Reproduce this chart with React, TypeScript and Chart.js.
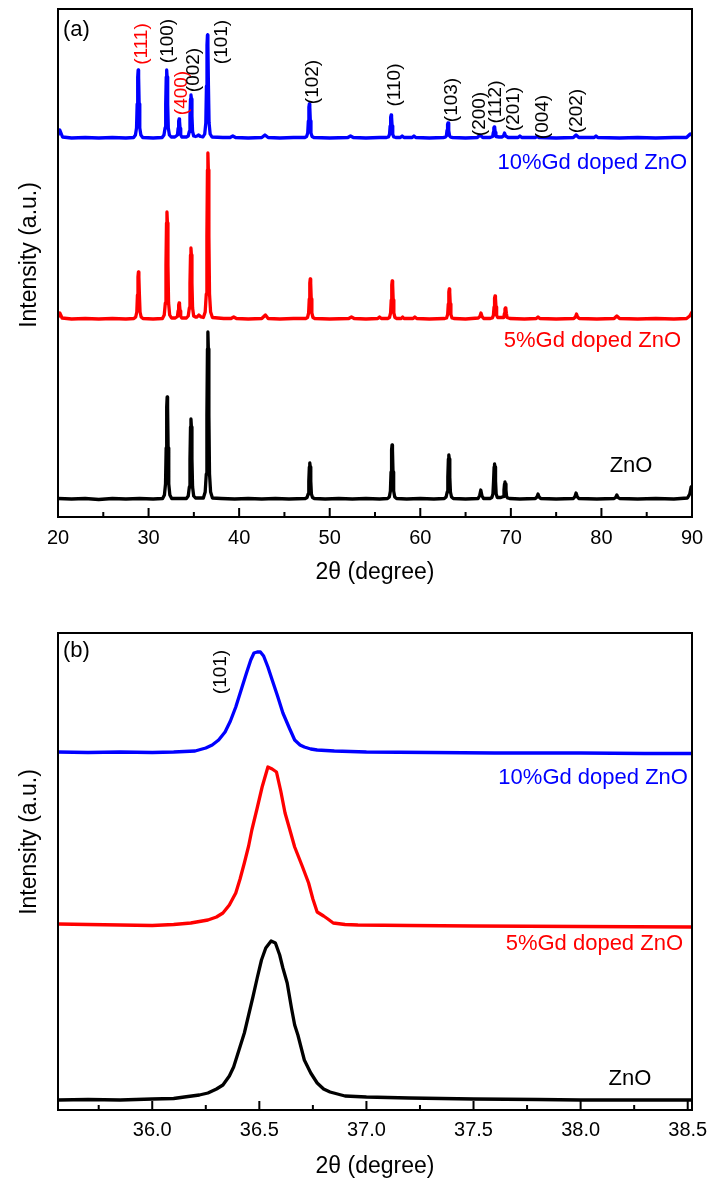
import { useEffect, useRef } from "react";
import { Chart, registerables } from "chart.js";

Chart.register(...registerables);

const FONT = "'Liberation Sans', Arial, Helvetica, sans-serif";

type Pt = [number, number];

const seriesNames = ["ZnO", "5%Gd doped ZnO", "10%Gd doped ZnO"];
const seriesColors = ["#000000", "#ff0000", "#0000ff"];

// ---------- Panel (a): 2θ = 20–90° ----------
const xTicksA = [20, 30, 40, 50, 60, 70, 80, 90];
const xTickLabelsA = ["20", "30", "40", "50", "60", "70", "80", "90"];
const xMinorA = [25, 35, 45, 55, 65, 75, 85];
const stackA = [18, 198, 379];

const znoA: Pt[] = [
  [20, 0.5], [21.5, 0], [23, 0.5], [24.5, -0.5], [26, 0.5], [27.5, 0], [29, 0.5], [30.5, 0],
  [31.55, 0.5], [31.75, 4], [31.87, 15], [31.94, 51], [32.0, 92], [32.05, 102], [32.1, 92], [32.16, 51], [32.23, 15], [32.35, 4], [32.55, 0.5],
  [33.3, 0.5],
  [34.18, 0.5], [34.38, 3], [34.5, 12], [34.57, 40], [34.63, 72], [34.68, 80], [34.73, 72], [34.79, 40], [34.86, 12], [34.98, 3], [35.18, 1],
  [35.6, 1],
  [36.05, 1], [36.25, 7], [36.37, 25], [36.44, 84], [36.5, 150], [36.55, 167], [36.6, 150], [36.66, 84], [36.73, 25], [36.85, 7], [37.05, 1],
  [38, 0.5], [39.5, 0], [41, 0.5], [42.5, 0], [44, 0.5], [45.5, 0],
  [47.3, 0.5], [47.5, 1.5], [47.62, 5], [47.69, 18], [47.75, 32], [47.8, 36], [47.85, 32], [47.91, 18], [47.98, 5], [48.1, 1.5], [48.3, 0.5],
  [49.5, 0], [51, 0.5], [52.5, 0], [54, 0.5], [55.5, 0],
  [56.38, 0.5], [56.58, 2], [56.7, 8], [56.77, 27], [56.83, 49], [56.88, 54], [56.93, 49], [56.99, 27], [57.06, 8], [57.18, 2], [57.38, 0.5],
  [58.5, 0], [60, 0.5], [61.5, 0],
  [62.65, 0.5], [62.85, 2], [62.97, 7], [63.04, 22], [63.1, 40], [63.15, 44], [63.2, 40], [63.26, 22], [63.33, 7], [63.45, 2], [63.65, 0.5],
  [65, 0],
  [66.38, 0.5], [66.56, 3.6], [66.68, 9], [66.8, 3.6], [66.98, 0.5],
  [67.7, 0.5], [67.9, 1.5], [68.02, 5], [68.09, 18], [68.15, 32], [68.2, 35], [68.25, 32], [68.31, 18], [68.38, 5], [68.5, 1.5], [68.75, 1.5],
  [68.9, 1.5], [69.17, 2.5], [69.24, 9], [69.3, 15], [69.35, 17], [69.4, 15], [69.46, 9], [69.53, 2.5], [69.65, 1], [69.85, 0.5],
  [71, 0],
  [72.7, 0.5], [72.88, 2], [73.0, 5], [73.12, 2], [73.3, 0.5],
  [75, 0],
  [76.9, 0.5], [77.08, 2.4], [77.2, 6], [77.32, 2.4], [77.5, 0.5],
  [79.5, 0],
  [81.4, 0.5], [81.58, 1.6], [81.7, 4], [81.82, 1.6], [82.0, 0.5],
  [84, 0], [86, 0.5], [88, 0], [89.5, 1], [89.75, 5], [89.9, 12], [90, 13],
];

const gd5A: Pt[] = [
  [20, 2], [20.2, 6], [20.45, 1], [21.5, 0], [23, 0.5], [24.5, 0], [26, 0.5], [27.5, 0],
  [28.38, 0.5], [28.58, 2], [28.7, 7], [28.77, 24], [28.83, 42], [28.88, 47], [28.93, 42], [28.99, 24], [29.06, 7], [29.18, 2], [29.38, 0.5],
  [30.5, 0],
  [31.53, 0.5], [31.73, 4], [31.85, 16], [31.92, 54], [31.98, 96], [32.03, 107], [32.08, 96], [32.14, 54], [32.21, 16], [32.33, 4], [32.53, 1],
  [32.95, 1], [33.19, 2.5], [33.26, 8], [33.32, 14], [33.37, 16], [33.42, 14], [33.48, 8], [33.55, 2.5], [33.67, 1], [33.87, 1],
  [34.18, 1], [34.38, 3], [34.5, 11], [34.57, 36], [34.63, 64], [34.68, 71], [34.73, 64], [34.79, 36], [34.86, 11], [34.98, 3], [35.18, 2],
  [35.35, 2], [35.55, 4], [35.8, 2],
  [36.05, 1.5], [36.25, 7], [36.37, 25], [36.44, 83], [36.5, 149], [36.55, 166], [36.6, 149], [36.66, 83], [36.73, 25], [36.85, 7], [37.05, 1.5],
  [38.3, 0.5], [39.1, 0.5], [39.4, 2], [39.7, 0.5], [41, 0], [42.5, 0.5], [42.9, 4], [43.2, 0.5], [44.5, 0], [46, 0.5],
  [47.35, 0.5], [47.55, 1.5], [47.67, 6], [47.74, 20], [47.8, 36], [47.85, 40], [47.9, 36], [47.96, 20], [48.03, 6], [48.15, 1.5], [48.35, 0.5],
  [50, 0], [52.1, 0.5], [52.4, 2], [52.7, 0.5], [54, 0], [55.3, 0.5], [55.5, 2], [55.7, 0.5],
  [56.4, 0.5], [56.6, 1.5], [56.72, 6], [56.79, 19], [56.85, 34], [56.9, 38], [56.95, 34], [57.01, 19], [57.08, 6], [57.2, 1.5], [57.4, 0.5],
  [57.9, 0.5], [58.05, 2], [58.2, 0.5], [59.2, 0.5], [59.4, 2], [59.6, 0.5], [61, 0],
  [62.7, 0.5], [62.9, 1], [63.02, 4.5], [63.09, 15], [63.15, 27], [63.2, 30], [63.25, 27], [63.31, 15], [63.38, 4.5], [63.5, 1], [63.7, 0.5],
  [65, 0],
  [66.4, 1], [66.58, 2.4], [66.7, 6], [66.82, 2.4], [67.0, 0.5],
  [67.75, 0.5], [67.95, 1], [68.07, 3.5], [68.14, 12], [68.2, 21], [68.25, 23], [68.3, 21], [68.36, 12], [68.43, 3.5], [68.55, 1.5], [68.75, 1.5],
  [68.95, 1.5], [69.22, 1.5], [69.29, 5.5], [69.35, 10], [69.4, 11], [69.45, 10], [69.51, 5.5], [69.58, 1.5], [69.9, 0.5],
  [71.5, 0], [72.8, 0.5], [73.0, 2], [73.2, 0.5], [75, 0],
  [76.95, 0.5], [77.13, 2], [77.25, 5], [77.37, 2], [77.55, 0.5],
  [79.5, 0], [81.4, 0.5], [81.7, 3], [82.0, 0.5], [84, 0], [86, 0.5], [88, 0], [89.4, 0.5], [89.75, 3], [90, 7],
];

const gd10A: Pt[] = [
  [20, 3], [20.2, 8], [20.5, 1], [21.5, 0], [23, 0.5], [24.5, 0], [26, 0.5], [27.5, 0],
  [28.35, 0.5], [28.55, 3], [28.67, 10], [28.74, 34], [28.8, 61], [28.85, 68], [28.9, 61], [28.96, 34], [29.03, 10], [29.15, 3], [29.35, 0.5],
  [30.5, 0],
  [31.5, 0.5], [31.7, 3], [31.82, 10], [31.89, 34], [31.95, 61], [32.0, 68], [32.05, 61], [32.11, 34], [32.18, 10], [32.3, 3], [32.5, 1],
  [32.9, 1], [33.19, 3], [33.26, 9.5], [33.32, 17], [33.37, 19], [33.42, 17], [33.48, 9.5], [33.55, 3], [33.67, 1], [33.87, 1],
  [34.18, 1], [34.38, 2], [34.5, 6.5], [34.57, 22], [34.63, 39], [34.68, 43], [34.73, 39], [34.79, 22], [34.86, 6.5], [34.98, 2], [35.18, 1.5],
  [35.35, 2], [35.5, 3], [35.75, 1.5],
  [36.0, 1], [36.2, 4], [36.32, 15], [36.39, 52], [36.45, 93], [36.5, 103], [36.55, 93], [36.61, 52], [36.68, 15], [36.8, 4], [37.0, 1],
  [38.2, 0.5], [39.0, 0.5], [39.3, 2], [39.6, 0.5], [41, 0], [42.5, 0.5], [42.85, 3], [43.2, 0.5], [44.5, 0], [46, 0.5],
  [47.25, 0.5], [47.45, 1.5], [47.57, 5], [47.64, 17], [47.7, 31], [47.75, 34], [47.8, 31], [47.86, 17], [47.93, 5], [48.05, 1.5], [48.25, 0.5],
  [50, 0], [52.0, 0.5], [52.3, 2], [52.6, 0.5], [54, 0], [55.5, 0.5],
  [56.28, 0.5], [56.48, 1], [56.6, 3.5], [56.67, 12], [56.73, 21], [56.78, 23], [56.83, 21], [56.89, 12], [56.96, 3.5], [57.08, 1], [57.28, 0.5],
  [57.8, 0.5], [58.0, 2], [58.2, 0.5], [59.1, 0.5], [59.3, 2], [59.5, 0.5], [61, 0],
  [62.56, 0.5], [62.76, 0.8], [62.88, 2], [62.95, 7.5], [63.01, 13.5], [63.06, 15], [63.11, 13.5], [63.17, 7.5], [63.24, 2], [63.36, 0.8], [63.56, 0.5],
  [65, 0], [66.3, 0.5], [66.6, 3], [66.9, 0.5],
  [67.7, 0.5], [67.99, 1.5], [68.06, 5.5], [68.12, 10], [68.17, 11], [68.22, 10], [68.28, 5.5], [68.35, 1.5], [68.7, 1],
  [69.0, 1], [69.18, 2], [69.3, 5], [69.42, 2], [69.7, 0.5],
  [70.8, 0.5], [71.0, 2], [71.2, 0.5], [72.7, 0.5], [72.9, 1.5], [73.1, 0.5], [75, 0],
  [76.9, 0.5], [77.2, 3], [77.5, 0.5], [79.2, 0.5], [79.4, 2], [79.6, 0.5],
  [82, 0], [84, 0.5], [86, 0], [88, 0.5], [89.4, 0.5], [89.8, 4], [90, 3],
];

// ---------- Panel (b): the (101) reflection ----------
const xTicksB = [36.0, 36.5, 37.0, 37.5, 38.0, 38.5];
const xTickLabelsB = ["36.0", "36.5", "37.0", "37.5", "38.0", "38.5"];
const xMinorB = [35.75, 36.25, 36.75, 37.25, 37.75, 38.25];
const stackB = [10, 184, 357];

const znoB: Pt[] = [
  [35.56, 0], [35.7, 0.5], [35.85, 0], [36.0, 1], [36.1, 1.5], [36.15, 3], [36.22, 5], [36.26, 7],
  [36.3, 11], [36.33, 15], [36.36, 24], [36.38, 33], [36.405, 50], [36.43, 67], [36.45, 85],
  [36.47, 103], [36.49, 122], [36.51, 140], [36.53, 152], [36.555, 159], [36.575, 157],
  [36.595, 145], [36.61, 132], [36.63, 117], [36.65, 92], [36.665, 75], [36.68, 65], [36.71, 40],
  [36.74, 27], [36.77, 17], [36.8, 11], [36.83, 8], [36.9, 4], [37.0, 3], [37.2, 2], [37.5, 1],
  [37.8, 0.5], [38.0, 0], [38.3, 0], [38.52, 0],
];

const gd5B: Pt[] = [
  [35.56, 2], [35.7, 1.5], [35.85, 1], [36.0, 0.5], [36.1, 1.5], [36.18, 3], [36.26, 6], [36.3, 9],
  [36.33, 13], [36.36, 21], [36.39, 33], [36.41, 47], [36.43, 63], [36.45, 80], [36.465, 96],
  [36.49, 118], [36.513, 139], [36.54, 159], [36.56, 157], [36.58, 154], [36.6, 135], [36.62, 113],
  [36.64, 98], [36.665, 79], [36.7, 60], [36.73, 43], [36.75, 27], [36.77, 14], [36.8, 10],
  [36.82, 7], [36.845, 3], [36.9, 1.5], [36.96, 1], [37.2, 0.5], [37.5, 0], [38.0, -0.5], [38.52, -1],
];

const gd10B: Pt[] = [
  [35.56, 1], [35.7, 0.5], [35.85, 1], [36.0, 0.5], [36.1, 1], [36.2, 2], [36.25, 5], [36.28, 8],
  [36.31, 13], [36.34, 21], [36.365, 32], [36.39, 46], [36.415, 63], [36.44, 80], [36.46, 93],
  [36.475, 100], [36.49, 101], [36.505, 101], [36.52, 97], [36.54, 86], [36.56, 73], [36.585, 57],
  [36.61, 40], [36.64, 25], [36.665, 13], [36.69, 8], [36.71, 6], [36.74, 4], [36.77, 3],
  [36.85, 2], [37.0, 1], [37.3, 0.5], [37.6, 0], [38.0, 0], [38.3, -0.5], [38.52, -0.5],
];

type Note = {
  text: string;
  x: number;
  y: number;
  color?: string;
  size?: number;
  align?: CanvasTextAlign;
  rotate?: boolean;
};

const notesA: Note[] = [
  { text: "(a)", x: 20.55, y: 487, align: "left", size: 22 },
  { text: "(111)", x: 29.27, y: 473, rotate: true, color: "#ff0000" },
  { text: "(100)", x: 32.15, y: 476, rotate: true },
  { text: "(400)", x: 33.69, y: 424, rotate: true, color: "#ff0000" },
  { text: "(002)", x: 35.02, y: 447, rotate: true },
  { text: "(101)", x: 38.11, y: 475, rotate: true },
  { text: "(102)", x: 48.15, y: 435, rotate: true },
  { text: "(110)", x: 57.21, y: 432, rotate: true },
  { text: "(103)", x: 63.5, y: 417, rotate: true },
  { text: "(200)", x: 66.59, y: 403, rotate: true },
  { text: "(112)", x: 68.36, y: 415, rotate: true },
  { text: "(201)", x: 70.35, y: 408, rotate: true },
  { text: "(004)", x: 73.55, y: 400, rotate: true },
  { text: "(202)", x: 77.3, y: 406, rotate: true },
  { text: seriesNames[2], x: 89.45, y: 354, align: "right", color: seriesColors[2], size: 22 },
  { text: seriesNames[1], x: 88.8, y: 176, align: "right", color: seriesColors[1], size: 22 },
  { text: seriesNames[0], x: 83.27, y: 51, align: "center", size: 22 },
];

const notesB: Note[] = [
  { text: "(b)", x: 35.583, y: 459, align: "left", size: 22 },
  { text: "(101)", x: 36.32, y: 438, rotate: true },
  { text: seriesNames[2], x: 38.501, y: 332, align: "right", color: seriesColors[2], size: 22 },
  { text: seriesNames[1], x: 38.478, y: 166, align: "right", color: seriesColors[1], size: 22 },
  { text: seriesNames[0], x: 38.23, y: 31, align: "center", size: 22 },
];

type PanelProps = {
  top: number;
  height: number;
  xMin: number;
  xMax: number;
  yMax: number;
  majors: number[];
  majorLabels: string[];
  minors: number[];
  series: Pt[][];
  stack: number[];
  notes: Note[];
  yTitleAt: number;
  padTop: number;
  axisHeight: number;
  tickPad: number;
  titlePad: number;
  lineWidth: number;
};

function Panel(p: PanelProps) {
  const ref = useRef<HTMLCanvasElement | null>(null);

  useEffect(() => {
    if (!ref.current) return;

    // frame, inward tick marks, axis title and peak/series annotations
    const decor = {
      id: "panelDecor",
      afterDatasetsDraw(chart: any) {
        const { ctx, chartArea: a, scales } = chart;
        const xs = scales.x;
        const ys = scales.y;
        ctx.save();
        ctx.strokeStyle = "#000";
        ctx.lineWidth = 2;
        ctx.strokeRect(a.left, a.top, a.right - a.left, a.bottom - a.top);
        ctx.beginPath();
        for (const v of p.majors) {
          const px = xs.getPixelForValue(v);
          ctx.moveTo(px, a.bottom);
          ctx.lineTo(px, a.bottom - 9);
        }
        for (const v of p.minors) {
          const px = xs.getPixelForValue(v);
          ctx.moveTo(px, a.bottom);
          ctx.lineTo(px, a.bottom - 5);
        }
        ctx.stroke();

        ctx.save();
        ctx.translate(a.left - 28, ys.getPixelForValue(p.yTitleAt));
        ctx.rotate(-Math.PI / 2);
        ctx.fillStyle = "#000";
        ctx.font = `23px ${FONT}`;
        ctx.textAlign = "center";
        ctx.textBaseline = "middle";
        ctx.fillText("Intensity (a.u.)", 0, 0);
        ctx.restore();

        for (const n of p.notes) {
          const px = xs.getPixelForValue(n.x);
          const py = ys.getPixelForValue(n.y);
          ctx.save();
          ctx.fillStyle = n.color ?? "#000";
          ctx.font = `${n.size ?? 19}px ${FONT}`;
          ctx.textBaseline = "middle";
          ctx.translate(px, py);
          if (n.rotate) {
            ctx.rotate(-Math.PI / 2);
            ctx.textAlign = "center";
          } else {
            ctx.textAlign = n.align ?? "left";
          }
          ctx.fillText(n.text, 0, 0);
          ctx.restore();
        }
        ctx.restore();
      },
    };

    const chart = new Chart(ref.current, {
      type: "line",
      data: {
        datasets: p.series.map((pts, i) => ({
          label: seriesNames[i],
          data: pts.map(([x, y]) => ({ x, y: y + p.stack[i] })),
          borderColor: seriesColors[i],
          borderWidth: p.lineWidth,
          pointRadius: 0,
          tension: 0,
          borderJoinStyle: "round" as const,
          borderCapStyle: "round" as const,
          fill: false,
        })),
      },
      options: {
        animation: false,
        responsive: false,
        devicePixelRatio: 1,
        events: [],
        layout: { padding: { left: 58, right: 17, top: p.padTop, bottom: 0 } },
        plugins: { legend: { display: false }, tooltip: { enabled: false } },
        scales: {
          x: {
            type: "linear",
            min: p.xMin,
            max: p.xMax,
            grid: { display: false, drawTicks: false },
            border: { display: false },
            afterBuildTicks: (s: any) => {
              s.ticks = p.majors.map((v) => ({ value: v }));
            },
            afterFit: (s: any) => {
              s.height = p.axisHeight;
              s.paddingLeft = 0;
              s.paddingRight = 0;
            },
            ticks: {
              autoSkip: false,
              maxRotation: 0,
              padding: p.tickPad,
              color: "#000",
              font: { family: FONT, size: 20 },
              callback: (_v: any, i: number) => p.majorLabels[i],
            },
            title: {
              display: true,
              text: "2θ (degree)",
              color: "#000",
              font: { family: FONT, size: 23, lineHeight: 1 },
              padding: { top: 0, bottom: p.titlePad },
            },
          },
          y: { display: false, min: 0, max: p.yMax },
        },
      },
      plugins: [decor],
    } as any);

    return () => chart.destroy();
  }, []);

  return (
    <canvas
      ref={ref}
      width={709}
      height={p.height}
      style={{ position: "absolute", left: 0, top: p.top, width: 709, height: p.height }}
    />
  );
}

export default function App() {
  return (
    <div
      style={{
        position: "absolute",
        left: 0,
        top: 0,
        width: 709,
        height: 1178,
        overflow: "hidden",
        background: "#fff",
      }}
    >
      <Panel
        top={0}
        height={600}
        xMin={20}
        xMax={90}
        yMax={508}
        majors={xTicksA}
        majorLabels={xTickLabelsA}
        minors={xMinorA}
        series={[znoA, gd5A, gd10A]}
        stack={stackA}
        notes={notesA}
        yTitleAt={262}
        padTop={9}
        axisHeight={83}
        tickPad={9}
        titlePad={16}
        lineWidth={3.3}
      />
      <Panel
        top={600}
        height={578}
        xMin={35.56}
        xMax={38.52}
        yMax={477}
        majors={xTicksB}
        majorLabels={xTickLabelsB}
        minors={xMinorB}
        series={[znoB, gd5B, gd10B]}
        stack={stackB}
        notes={notesB}
        yTitleAt={268}
        padTop={33}
        axisHeight={68}
        tickPad={8}
        titlePad={0}
        lineWidth={3.3}
      />
    </div>
  );
}
